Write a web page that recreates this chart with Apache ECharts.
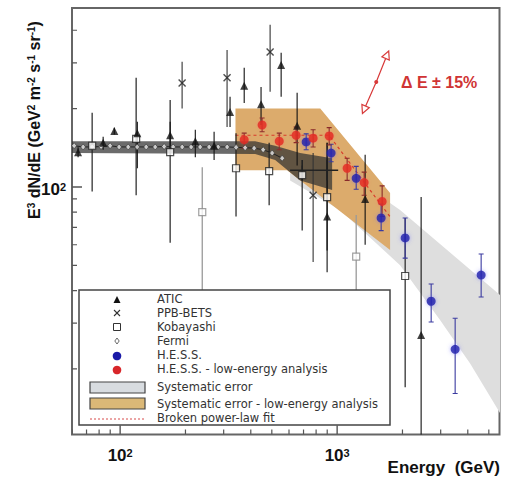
<!DOCTYPE html>
<html><head><meta charset="utf-8">
<script src="https://cdn.jsdelivr.net/npm/echarts@6/dist/echarts.min.js"></script>
<style>html,body{margin:0;padding:0;background:#fff}#c{width:508px;height:478px}</style>
</head><body><div id="c"></div>
<script>
// ---- axes ----
const xMin = 60, xMax = 5600, yMin = 11.2, yMax = 487;
const xMajorTicks = [100, 1000];
const xMinorTicks = [60, 70, 80, 90, 200, 300, 400, 500, 600, 700, 800, 900, 2000, 3000, 4000, 5000];
const yMajorTicks = [100];
const yMinorTicks = [20, 30, 40, 50, 60, 70, 80, 90, 200, 300, 400];
const xLabelValues = [100, 1000];
const xLabelExps = ['2', '3'];
const yLabelValues = [100];
const yLabelExps = ['2'];

// ---- data: [E (GeV), E^3 dN/dE, low, high] ----
const atic = [
  [64, 136, 130, 142], [83.5, 148, 139, 156], [94, 164, 159, 169], [120, 161, 118, 178],
  [170, 158, 140, 178], [222, 150, 130, 166], [271, 144, 127, 163], [321, 194, 170, 222],
  [373, 245, 210, 287], [446, 208, 173, 242], [552, 294, 222, 328], [654, 172, 121, 230],
  [899, 77, 47, 148], [1346, 90, 60, 133], [2438, 27, 8, 91.5]
];
const ppbBets = [
  [193, 251, 200, 303], [311, 263, 170, 336], [491, 330, 232, 420], [775, 93, 51.5, 135]
];
const kobayashi = [
  [74.3, 144, 96, 193], [118.5, 153, 93, 263], [170, 136, 61, 216], [342, 118, 77, 161],
  [486, 115, 85, 148], [690, 111, 68, 121], [899, 91.5, 57, 148], [2058, 45.5, 17, 76]
];
const kobayashiGray = [
  [239, 80, 40, 119], [1224, 54, 40, 78]
];
const fermi = [
  [61.4, 144], [67.5, 142.5], [74.3, 142.5], [81.7, 143], [89.9, 144], [98.9, 142.5],
  [108.9, 142.5], [119.8, 142.5], [131.8, 142.5], [145, 142.5], [159.5, 143], [175.5, 142.5],
  [193.1, 142.5], [212.4, 142.5], [233.7, 142.5], [257.1, 142.5], [282.8, 142.5], [311.2, 142.5],
  [342.3, 142], [376.7, 141.5], [414.4, 141], [456, 139], [501.6, 135], [557.9, 129]
];
// last Fermi bins: [E, F, Elow, Ehigh, Flow, Fhigh]
const fermiLast = [
  [690, 116, 607, 790, 106, 127], [899, 116, 791, 1011, 106, 127]
];
const hess = [
  [720, 149, 139, 160], [938, 135, 125, 146], [1224, 108, 98, 120], [1595, 76, 68, 86],
  [2058, 63.7, 53.3, 76], [2712, 36.4, 30.3, 42.4], [3498, 23.8, 16.1, 31.3], [4609, 45.9, 37.8, 55.3]
];
const hessLow = [
  [373, 152, 141, 161], [451, 173, 163, 184], [541, 150, 139, 161], [647, 158, 148, 170],
  [775, 154, 142.5, 166], [919, 157, 145, 169], [1112, 118, 106, 129], [1332, 104, 93, 114],
  [1612, 88, 77, 101]
];
const brokenFit = [[340, 158], [918, 158], [1750, 77]];
const orangeUpper = [[340, 200], [836, 200], [1754, 94.8]];
const orangeLower = [[340, 116], [588, 116], [1754, 57.3]];
const grayUpper = [[607, 141], [1032, 118], [1950, 81.6], [5640, 38.4]];
const grayLower = [[607, 106], [1032, 81.6], [1950, 50], [2985, 30.8], [4100, 21], [5640, 13.5]];
const fermiUpper = [[60, 150], [419, 150], [518, 144], [675, 135], [948, 129]];
const fermiLower = [[60, 135], [419, 134], [518, 127], [675, 106], [948, 97.4]];
const energyScale = [[1330, 198], [1514, 253], [1700, 322]];

const FONT = '"Liberation Sans", Arial, sans-serif';
const LFONT = '"DejaVu Sans", "Liberation Sans", sans-serif';
const chart = echarts.init(document.getElementById('c'), null, {renderer: 'svg', width: 508, height: 478});

function polyRender(upper, lower, fill) {
  return function (params, api) {
    const pts = upper.map(p => api.coord(p)).concat(lower.slice().reverse().map(p => api.coord(p)));
    return {type: 'polygon', shape: {points: pts}, style: {fill: fill}};
  };
}
function errRender(color, lw, cap) {
  return function (params, api) {
    const e = api.value(0), f = api.value(1), lo = api.value(2), hi = api.value(3);
    const c = api.coord([e, f]), a = api.coord([e, lo]), b = api.coord([e, hi]);
    const ch = [{type: 'line', shape: {x1: c[0], y1: a[1], x2: c[0], y2: b[1]}, style: {stroke: color, lineWidth: lw}}];
    if (cap) {
      ch.push({type: 'line', shape: {x1: c[0] - cap, y1: a[1], x2: c[0] + cap, y2: a[1]}, style: {stroke: color, lineWidth: lw}});
      ch.push({type: 'line', shape: {x1: c[0] - cap, y1: b[1], x2: c[0] + cap, y2: b[1]}, style: {stroke: color, lineWidth: lw}});
    }
    return {type: 'group', children: ch};
  };
}
function custom(data, renderItem, z, clip) {
  return {type: 'custom', data: data, renderItem: renderItem, z: z, clip: clip !== false, silent: true};
}
function scatter(data, symbol, size, itemStyle, z, extra) {
  return Object.assign({type: 'scatter', data: data.map(d => [d[0], d[1]]), symbol: symbol, symbolSize: size,
    itemStyle: itemStyle, z: z, silent: true}, extra || {});
}
const supRich = (n, s) => ({
  a: {fontSize: n, fontWeight: 'bold', fontFamily: FONT, fill: '#111', verticalAlign: 'bottom'},
  b: {fontSize: s, fontWeight: 'bold', fontFamily: FONT, fill: '#111', verticalAlign: 'top'}
});

const series = [
  custom([grayUpper[0]], polyRender(grayUpper, grayLower, '#dedede'), 1),
  custom([orangeUpper[0]], polyRender(orangeUpper, orangeLower, '#dcab6c'), 2),
  custom([fermiUpper[0]], polyRender(fermiUpper, fermiLower, 'rgba(50,50,50,0.72)'), 3),
  {type: 'line', data: brokenFit, showSymbol: false, z: 4, silent: true,
    lineStyle: {color: '#d83a2a', width: 1.2, type: [3, 3]}},
  {type: 'line', data: fermi, showSymbol: false, z: 4, silent: true,
    lineStyle: {color: '#222', width: 1}},
  custom(kobayashiGray, errRender('#999', 1.3), 5),
  custom(kobayashi, errRender('#222', 1.2), 5),
  custom(atic, errRender('#111', 1.1), 5),
  custom(ppbBets, errRender('#333', 1.1), 5),
  custom(fermiLast, function (params, api) {
    const c = api.coord([api.value(0), api.value(1)]);
    const l = api.coord([api.value(2), api.value(1)]), r = api.coord([api.value(3), api.value(1)]);
    const lo = api.coord([api.value(0), api.value(4)]), hi = api.coord([api.value(0), api.value(5)]);
    return {type: 'group', children: [
      {type: 'line', shape: {x1: l[0], y1: c[1], x2: r[0], y2: c[1]}, style: {stroke: '#222', lineWidth: 1.6}},
      {type: 'line', shape: {x1: c[0], y1: lo[1], x2: c[0], y2: hi[1]}, style: {stroke: '#222', lineWidth: 1.6}}
    ]};
  }, 5),
  custom(hess, errRender('#3a3aa0', 1.1, 2.5), 5),
  custom(hessLow, errRender('#8a2a2a', 1.1, 2.5), 5),
  scatter(fermi, 'diamond', [5, 6], {color: '#eee', borderColor: '#333', borderWidth: 0.8}, 6),
  scatter(kobayashiGray, 'rect', 7, {color: '#fff', borderColor: '#888', borderWidth: 1.2}, 6),
  scatter(kobayashi, 'rect', 7, {color: '#fff', borderColor: '#222', borderWidth: 1.2}, 6),
  scatter(atic, 'triangle', 8, {color: '#111'}, 7),
  scatter(ppbBets, 'path://M0,0L10,10M10,0L0,10', 7, {color: 'transparent', borderColor: '#222', borderWidth: 1.4}, 7),
  scatter(hess, 'circle', 9, {color: '#1a1aa8', shadowBlur: 4, shadowColor: 'rgba(90,90,255,0.6)'}, 8),
  scatter(hessLow, 'circle', 9, {color: '#e2271c', shadowBlur: 3, shadowColor: 'rgba(255,90,90,0.5)'}, 8),
  {type: 'line', z: 8, silent: true, lineStyle: {color: '#d83a3a', width: 1.2},
    data: [
      {value: energyScale[0], symbol: 'triangle', symbolSize: 8, symbolRotate: 157,
        itemStyle: {color: '#fff', borderColor: '#d83a3a', borderWidth: 1.2}},
      {value: energyScale[1], symbol: 'circle', symbolSize: 4, itemStyle: {color: '#d83a3a'}},
      {value: energyScale[2], symbol: 'triangle', symbolSize: 8, symbolRotate: -23,
        itemStyle: {color: '#fff', borderColor: '#d83a3a', borderWidth: 1.2}}
    ], showSymbol: true},
  // ticks
  custom(xMajorTicks.map(v => [v, yMin]), (p, api) => {
    const c = api.coord([api.value(0), yMin]);
    return {type: 'line', shape: {x1: c[0], y1: c[1], x2: c[0], y2: c[1] - 9}, style: {stroke: '#555', lineWidth: 1.4}};
  }, 9),
  custom(xMinorTicks.map(v => [v, yMin]), (p, api) => {
    const c = api.coord([api.value(0), yMin]);
    return {type: 'line', shape: {x1: c[0], y1: c[1], x2: c[0], y2: c[1] - 5}, style: {stroke: '#555', lineWidth: 1.2}};
  }, 9),
  custom(yMajorTicks.map(v => [xMin, v]), (p, api) => {
    const c = api.coord([xMin, api.value(1)]);
    return {type: 'line', shape: {x1: c[0], y1: c[1], x2: c[0] + 10, y2: c[1]}, style: {stroke: '#555', lineWidth: 1.4}};
  }, 9),
  custom(yMinorTicks.map(v => [xMin, v]), (p, api) => {
    const c = api.coord([xMin, api.value(1)]);
    return {type: 'line', shape: {x1: c[0], y1: c[1], x2: c[0] + 5, y2: c[1]}, style: {stroke: '#555', lineWidth: 1.2}};
  }, 9),
  // tick labels
  custom(xLabelValues.map(v => [v, yMin]), (p, api) => {
    const c = api.coord([api.value(0), yMin]);
    return {type: 'text', x: c[0], y: c[1] + 21, style: {text: '{a|10}{b|' + xLabelExps[p.dataIndex] + '}',
      rich: supRich(17, 11), align: 'center', verticalAlign: 'middle'}};
  }, 9, false),
  custom(yLabelValues.map(v => [xMin, v]), (p, api) => {
    const c = api.coord([xMin, api.value(1)]);
    return {type: 'text', x: c[0] - 6, y: c[1] + 3, style: {text: '{a|10}{b|' + yLabelExps[p.dataIndex] + '}',
      rich: supRich(17, 11), align: 'right', verticalAlign: 'middle'}};
  }, 9, false)
];

const legendRows = [
  {t: 'ATIC', y: 299}, {t: 'PPB-BETS', y: 313}, {t: 'Kobayashi', y: 327}, {t: 'Fermi', y: 341},
  {t: 'H.E.S.S.', y: 355}, {t: 'H.E.S.S. - low-energy analysis', y: 369},
  {t: 'Systematic error', y: 387}, {t: 'Systematic error - low-energy analysis', y: 404},
  {t: 'Broken power-law fit', y: 418}
];
const lx = 117;
const graphic = [
  {type: 'rect', z: 100, shape: {x: 79, y: 290, width: 311, height: 135}, style: {fill: '#fff', stroke: '#444', lineWidth: 1.5}},
  {type: 'polygon', z: 101, shape: {points: [[lx, 296], [lx - 3.5, 303], [lx + 3.5, 303]]}, style: {fill: '#111'}},
  {type: 'line', z: 101, shape: {x1: lx - 3, y1: 310, x2: lx + 3, y2: 316}, style: {stroke: '#333', lineWidth: 1.1}},
  {type: 'line', z: 101, shape: {x1: lx + 3, y1: 310, x2: lx - 3, y2: 316}, style: {stroke: '#333', lineWidth: 1.1}},
  {type: 'rect', z: 101, shape: {x: lx - 3.5, y: 323.5, width: 7, height: 7}, style: {fill: '#fff', stroke: '#333', lineWidth: 1}},
  {type: 'polygon', z: 101, shape: {points: [[lx, 338], [lx + 2.2, 341], [lx, 344], [lx - 2.2, 341]]}, style: {fill: '#fff', stroke: '#444', lineWidth: 0.8}},
  {type: 'circle', z: 101, shape: {cx: lx, cy: 356, r: 4.3}, style: {fill: '#1a1aa8'}},
  {type: 'circle', z: 101, shape: {cx: lx, cy: 370, r: 4.3}, style: {fill: '#d8262a'}},
  {type: 'rect', z: 101, shape: {x: 90, y: 382, width: 55, height: 11}, style: {fill: '#d8dce0', stroke: '#444', lineWidth: 1.2}},
  {type: 'rect', z: 101, shape: {x: 90, y: 398, width: 55, height: 11}, style: {fill: '#dbb877', stroke: '#444', lineWidth: 1.2}},
  {type: 'line', z: 101, shape: {x1: 90, y1: 419, x2: 145, y2: 419}, style: {stroke: '#d84a4a', lineWidth: 1, lineDash: [2, 2]}}
].concat(legendRows.map(r => ({type: 'text', z: 101, x: 157, y: r.y,
  style: {text: r.t, fill: '#333', font: '11.5px ' + LFONT, verticalAlign: 'middle', align: 'left'}})))
.concat([
  {type: 'text', z: 101, x: 34, y: 120, rotation: Math.PI / 2,
    style: {text: '{a|E}{b|3}{a| dN/dE (GeV}{b|2}{a| m}{b|-2}{a| s}{b|-1}{a| sr}{b|-1}{a|)}',
      rich: supRich(16, 10), align: 'center', verticalAlign: 'middle'}},
  {type: 'text', z: 101, x: 500, y: 467,
    style: {text: 'Energy  (GeV)', fill: '#111', font: 'bold 17px ' + FONT, align: 'right', verticalAlign: 'middle'}},
  {type: 'text', z: 101, x: 401, y: 82,
    style: {text: 'Δ E ± 15%', fill: '#d03434', font: 'bold 16px ' + FONT, align: 'left', verticalAlign: 'middle'}}
]);

chart.setOption({
  animation: false,
  grid: {left: 72, top: 8, right: 8.5, bottom: 43.5, show: true, borderColor: '#666', borderWidth: 2, backgroundColor: 'transparent'},
  xAxis: {type: 'log', logBase: 10, min: xMin, max: xMax, axisLine: {show: false}, axisTick: {show: false},
    axisLabel: {show: false}, splitLine: {show: false}, minorTick: {show: false}},
  yAxis: {type: 'log', logBase: 10, min: yMin, max: yMax, axisLine: {show: false}, axisTick: {show: false},
    axisLabel: {show: false}, splitLine: {show: false}, minorTick: {show: false}},
  series: series,
  graphic: graphic
});
</script></body></html>
